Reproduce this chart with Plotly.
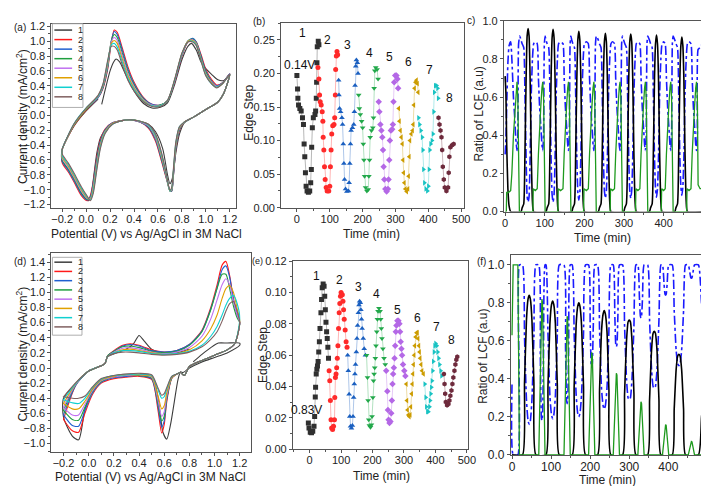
import plotly.graph_objects as go

W, H = 709, 486
FONT = "Liberation Sans, Arial, sans-serif"

cycle_labels = ['1', '2', '3', '4', '5', '6', '7', '8']
cv_colors = ['#3c3c3c', '#ff1a1a', '#1f5fd0', '#1f9f3f', '#c070f0', '#e0a000', '#10d0d0', '#806060']
es_colors = ['#303030', '#ff2a2a', '#1a5fc0', '#22a84a', '#b468e6', '#cc9c00', '#19c3c3', '#6e2a3c']
es_symbols = ['square', 'circle', 'triangle-up', 'triangle-down', 'diamond',
              'triangle-left', 'triangle-right', 'hexagon']

# ---------------- panel (a) CV data ----------------
a_V = [-0.2, -0.1, 0.0, 0.1, 0.14, 0.18, 0.21, 0.235, 0.26, 0.3, 0.35, 0.4, 0.48, 0.55, 0.62, 0.68,
       0.74, 0.8, 0.85, 0.89, 0.92, 0.96, 1.0, 1.05, 1.09, 1.14, 1.2,
       1.15, 1.1, 1.0, 0.9, 0.82, 0.78, 0.75, 0.73, 0.715, 0.7, 0.67, 0.63, 0.58, 0.52, 0.45, 0.38,
       0.3, 0.22, 0.16, 0.12, 0.09, 0.06, 0.035, 0.01, -0.04, -0.1, -0.15, -0.2, -0.2]
a_I2 = [-0.46, -0.14, 0.07, 0.24, 0.36, 0.62, 0.98, 1.15, 1.12, 0.92, 0.65, 0.45, 0.24, 0.15, 0.14, 0.2, 0.45, 0.8, 0.99, 1.03, 0.99, 0.82, 0.62, 0.48, 0.41, 0.44, 0.56,
        0.3, 0.18, 0.08, -0.02, -0.09, -0.2, -0.45, -0.8, -1.02, -1.0, -0.85, -0.62, -0.35, -0.17, -0.09, -0.06, -0.07, -0.1, -0.18, -0.32, -0.55, -0.88, -1.08, -1.15, -1.08, -0.9, -0.76, -0.64, -0.46]
a_I3 = [-0.46, -0.13, 0.08, 0.24, 0.37, 0.64, 1.0, 1.13, 1.09, 0.89, 0.62, 0.43, 0.23, 0.15, 0.14, 0.2, 0.46, 0.81, 1.0, 1.04, 0.99, 0.8, 0.6, 0.46, 0.4, 0.44, 0.56,
        0.3, 0.18, 0.08, -0.02, -0.09, -0.19, -0.44, -0.8, -1.02, -1.01, -0.84, -0.6, -0.33, -0.16, -0.09, -0.06, -0.07, -0.1, -0.19, -0.34, -0.58, -0.9, -1.1, -1.14, -1.06, -0.88, -0.74, -0.62, -0.46]
a_I4 = [-0.46, -0.13, 0.08, 0.25, 0.38, 0.66, 1.0, 1.09, 1.05, 0.85, 0.59, 0.41, 0.22, 0.14, 0.14, 0.2, 0.47, 0.82, 1.0, 1.03, 0.98, 0.78, 0.58, 0.45, 0.39, 0.43, 0.55,
        0.3, 0.18, 0.08, -0.02, -0.09, -0.18, -0.42, -0.78, -1.01, -1.02, -0.83, -0.58, -0.31, -0.15, -0.09, -0.06, -0.07, -0.11, -0.2, -0.36, -0.61, -0.93, -1.11, -1.13, -1.04, -0.86, -0.72, -0.6, -0.46]
a_I5 = [-0.46, -0.12, 0.09, 0.25, 0.39, 0.68, 0.99, 1.05, 1.01, 0.81, 0.56, 0.39, 0.21, 0.14, 0.13, 0.2, 0.47, 0.82, 1.0, 1.02, 0.97, 0.76, 0.56, 0.44, 0.39, 0.43, 0.55,
        0.3, 0.18, 0.08, -0.02, -0.09, -0.17, -0.4, -0.76, -1.0, -1.02, -0.82, -0.56, -0.3, -0.14, -0.09, -0.06, -0.07, -0.11, -0.21, -0.38, -0.64, -0.96, -1.12, -1.12, -1.02, -0.84, -0.7, -0.58, -0.46]
a_I6 = [-0.46, -0.12, 0.09, 0.26, 0.4, 0.7, 0.97, 1.01, 0.97, 0.77, 0.53, 0.37, 0.2, 0.13, 0.13, 0.2, 0.48, 0.83, 1.0, 1.01, 0.96, 0.75, 0.55, 0.43, 0.38, 0.43, 0.55,
        0.3, 0.18, 0.08, -0.02, -0.09, -0.16, -0.38, -0.74, -0.99, -1.02, -0.81, -0.54, -0.28, -0.13, -0.08, -0.06, -0.07, -0.11, -0.22, -0.4, -0.67, -0.99, -1.13, -1.11, -1.0, -0.82, -0.68, -0.56, -0.46]
a_I7 = [-0.46, -0.11, 0.1, 0.26, 0.41, 0.72, 0.95, 0.97, 0.92, 0.73, 0.5, 0.35, 0.19, 0.13, 0.13, 0.2, 0.48, 0.83, 0.99, 1.0, 0.95, 0.74, 0.54, 0.42, 0.38, 0.43, 0.55,
        0.3, 0.18, 0.08, -0.02, -0.09, -0.15, -0.36, -0.72, -0.98, -1.02, -0.8, -0.52, -0.27, -0.13, -0.08, -0.06, -0.07, -0.12, -0.23, -0.42, -0.7, -1.02, -1.14, -1.1, -0.98, -0.8, -0.66, -0.54, -0.46]
a_I8 = [-0.46, -0.11, 0.1, 0.27, 0.42, 0.74, 0.93, 0.93, 0.88, 0.69, 0.47, 0.33, 0.18, 0.12, 0.12, 0.2, 0.49, 0.84, 0.99, 0.99, 0.94, 0.73, 0.53, 0.42, 0.37, 0.43, 0.55,
        0.3, 0.18, 0.08, -0.02, -0.09, -0.15, -0.35, -0.7, -0.97, -1.01, -0.79, -0.5, -0.25, -0.12, -0.08, -0.06, -0.07, -0.12, -0.24, -0.44, -0.73, -1.05, -1.15, -1.09, -0.96, -0.78, -0.64, -0.52, -0.46]
a_V1 = [0.13, 0.16, 0.2, 0.23, 0.25, 0.28, 0.33, 0.4, 0.48, 0.55, 0.62, 0.68, 0.74, 0.8, 0.85, 0.88, 0.92, 0.96, 1.0, 1.05,
        1.1, 1.15, 1.2, 1.15, 1.1, 1.0, 0.9, 0.82, 0.78, 0.75, 0.72, 0.7, 0.68, 0.64, 0.58, 0.52, 0.45, 0.38, 0.3, 0.22,
        0.16, 0.12, 0.09, 0.065, 0.045, 0.02, -0.04, -0.1, -0.15, -0.2, -0.2, -0.1, 0.0, 0.1]
a_I1 = [0.15, 0.35, 0.6, 0.72, 0.76, 0.72, 0.55, 0.33, 0.16, 0.1, 0.11, 0.17, 0.42, 0.75, 0.93, 0.97, 0.88, 0.72, 0.63, 0.55,
        0.48, 0.47, 0.55, 0.3, 0.18, 0.08, -0.02, -0.1, -0.25, -0.5, -0.85, -0.92, -0.8, -0.45, -0.22, -0.12, -0.08, -0.06, -0.07, -0.11,
        -0.2, -0.3, -0.5, -0.8, -1.05, -1.15, -1.05, -0.85, -0.72, -0.62, -0.46, -0.14, 0.06, 0.22]

# ---------------- panel (d) CV data ----------------
d_V = [-0.2, -0.1, 0.0, 0.1, 0.13, 0.15, 0.2, 0.27, 0.33, 0.4, 0.5, 0.6, 0.7, 0.8, 0.9, 0.97, 1.02, 1.06, 1.09, 1.12, 1.15, 1.18, 1.2,
       1.16, 1.1, 1.0, 0.9, 0.8, 0.76, 0.73, 0.7, 0.66, 0.62, 0.6, 0.58, 0.55, 0.5, 0.4, 0.3, 0.2, 0.1, 0.03, -0.03, -0.08, -0.13, -0.2, -0.2]
d_I2 = [-0.68, -0.22, -0.04, 0.03, 0.06, 0.16, 0.23, 0.3, 0.32, 0.3, 0.24, 0.21, 0.23, 0.31, 0.5, 0.8, 1.1, 1.36, 1.41, 1.22, 0.92, 0.7, 0.6,
        0.32, 0.24, 0.17, 0.1, 0.02, -0.1, -0.06, -0.08, -0.14, -0.45, -0.75, -0.86, -0.55, -0.15, -0.11, -0.12, -0.14, -0.2, -0.35, -0.6, -0.85, -0.83, -0.68, -0.68]
d_I3 = [-0.62, -0.22, -0.04, 0.03, 0.06, 0.16, 0.22, 0.29, 0.31, 0.29, 0.23, 0.21, 0.23, 0.31, 0.49, 0.78, 1.06, 1.3, 1.35, 1.2, 0.9, 0.7, 0.6,
        0.32, 0.24, 0.17, 0.1, 0.02, -0.1, -0.06, -0.08, -0.13, -0.42, -0.7, -0.78, -0.5, -0.14, -0.1, -0.11, -0.13, -0.19, -0.33, -0.56, -0.77, -0.76, -0.62, -0.62]
d_I4 = [-0.56, -0.21, -0.04, 0.03, 0.06, 0.16, 0.22, 0.28, 0.29, 0.27, 0.22, 0.2, 0.22, 0.3, 0.48, 0.77, 1.05, 1.24, 1.24, 1.05, 0.82, 0.66, 0.6,
        0.32, 0.24, 0.17, 0.1, 0.02, -0.1, -0.06, -0.08, -0.13, -0.4, -0.64, -0.7, -0.46, -0.13, -0.1, -0.1, -0.12, -0.18, -0.31, -0.52, -0.69, -0.68, -0.56, -0.56]
d_I5 = [-0.52, -0.21, -0.04, 0.03, 0.06, 0.15, 0.21, 0.26, 0.27, 0.25, 0.21, 0.19, 0.21, 0.27, 0.42, 0.65, 0.9, 1.1, 1.18, 1.1, 0.88, 0.7, 0.6,
        0.32, 0.24, 0.17, 0.1, 0.02, -0.1, -0.06, -0.08, -0.12, -0.37, -0.58, -0.64, -0.42, -0.12, -0.09, -0.1, -0.12, -0.17, -0.3, -0.48, -0.62, -0.62, -0.52, -0.52]
d_I6 = [-0.47, -0.2, -0.04, 0.03, 0.06, 0.15, 0.2, 0.24, 0.25, 0.23, 0.2, 0.18, 0.19, 0.24, 0.36, 0.52, 0.7, 0.92, 1.05, 1.09, 1.0, 0.78, 0.62,
        0.32, 0.24, 0.17, 0.1, 0.02, -0.1, -0.06, -0.08, -0.12, -0.33, -0.5, -0.54, -0.36, -0.11, -0.09, -0.09, -0.11, -0.16, -0.28, -0.44, -0.54, -0.54, -0.47, -0.47]
d_I7 = [-0.42, -0.2, -0.04, 0.03, 0.06, 0.15, 0.2, 0.23, 0.23, 0.22, 0.19, 0.18, 0.19, 0.22, 0.3, 0.42, 0.55, 0.7, 0.83, 0.92, 0.96, 0.85, 0.65,
        0.32, 0.24, 0.17, 0.1, 0.02, -0.1, -0.06, -0.08, -0.11, -0.28, -0.38, -0.4, -0.28, -0.1, -0.08, -0.09, -0.1, -0.15, -0.26, -0.4, -0.47, -0.46, -0.42, -0.42]
d_I8 = [-0.38, -0.19, -0.04, 0.03, 0.06, 0.15, 0.19, 0.21, 0.21, 0.2, 0.18, 0.17, 0.18, 0.21, 0.28, 0.38, 0.48, 0.62, 0.75, 0.85, 0.88, 0.75, 0.6,
        0.32, 0.24, 0.17, 0.1, 0.02, -0.1, -0.06, -0.08, -0.11, -0.26, -0.34, -0.36, -0.26, -0.09, -0.07, -0.08, -0.1, -0.14, -0.25, -0.37, -0.4, -0.4, -0.38, -0.38]
d_V1 = [0.83, 0.9, 0.97, 1.03, 1.1, 1.2, 1.2, 1.1, 1.0, 0.9, 0.8, 0.75, 0.73, 0.71, 0.68, 0.65, 0.62, 0.59, 0.56, 0.52,
        0.45, 0.35, 0.2, 0.1, 0.03, -0.03, -0.08, -0.13, -0.2, -0.2, -0.1, 0.0, 0.1, 0.13, 0.15, 0.22, 0.3, 0.36, 0.4, 0.44,
        0.5, 0.6, 0.7, 0.8]
d_I1 = [0.08, 0.18, 0.27, 0.33, 0.33, 0.33, 0.3, 0.2, 0.14, 0.08, 0.0, -0.06, -0.05, -0.15, -0.45, -0.75, -0.94, -0.85, -0.5, -0.18,
        -0.1, -0.08, -0.1, -0.16, -0.28, -0.55, -0.95, -0.9, -0.65, -0.4, -0.2, -0.04, 0.03, 0.06, 0.15, 0.2, 0.25, 0.33, 0.43, 0.36,
        0.25, 0.2, 0.2, 0.25]

# ---------------- panel (b) edge step ----------------
b_t1 = [0, 2, 3, 5, 9, 13, 17, 20, 22, 24, 26, 28, 31, 35, 39, 42, 44, 45, 47, 50, 55, 57, 59, 60, 61, 62, 65, 67]
b_v1 = [0.197, 0.177, 0.163, 0.153, 0.148, 0.144, 0.134, 0.124, 0.095, 0.076, 0.052, 0.032, 0.025, 0.023, 0.025, 0.037, 0.057, 0.090, 0.119, 0.134, 0.139, 0.144, 0.163, 0.187, 0.216, 0.240, 0.248, 0.243]
b_t2 = [64, 67, 69, 71, 74, 77, 79, 80, 82, 84, 86, 89, 92, 97, 100, 102, 104, 106, 109, 113, 115, 117, 118, 120, 122, 124]
b_v2 = [0.209, 0.192, 0.168, 0.158, 0.153, 0.143, 0.129, 0.105, 0.086, 0.061, 0.042, 0.030, 0.025, 0.025, 0.032, 0.061, 0.086, 0.110, 0.122, 0.124, 0.134, 0.168, 0.206, 0.226, 0.233, 0.228]
b_t3 = [127, 128, 130, 133, 137, 139, 141, 143, 145, 148, 152, 157, 159, 161, 163, 165, 169, 173, 175, 177, 179, 181, 184, 186]
b_v3 = [0.190, 0.168, 0.148, 0.143, 0.134, 0.124, 0.095, 0.066, 0.042, 0.028, 0.024, 0.025, 0.037, 0.066, 0.095, 0.115, 0.119, 0.124, 0.143, 0.182, 0.211, 0.220, 0.216, 0.200]
b_t4 = [188, 190, 193, 197, 200, 202, 204, 206, 209, 213, 217, 219, 221, 223, 227, 231, 233, 235, 237, 240, 244, 247]
b_v4 = [0.168, 0.148, 0.139, 0.129, 0.119, 0.095, 0.071, 0.047, 0.030, 0.025, 0.027, 0.047, 0.071, 0.105, 0.115, 0.119, 0.134, 0.178, 0.204, 0.209, 0.206, 0.192]
b_t5 = [249, 251, 254, 257, 260, 262, 264, 266, 269, 273, 277, 279, 281, 283, 286, 290, 292, 294, 296, 299, 303, 306, 308]
b_v5 = [0.158, 0.143, 0.124, 0.115, 0.105, 0.086, 0.061, 0.042, 0.028, 0.024, 0.028, 0.042, 0.071, 0.100, 0.115, 0.117, 0.124, 0.158, 0.187, 0.197, 0.197, 0.192, 0.178]
b_t6 = [310, 312, 315, 318, 321, 323, 325, 327, 330, 334, 338, 340, 342, 344, 348, 352, 354, 356, 358, 361, 364, 367, 369]
b_v6 = [0.148, 0.129, 0.115, 0.105, 0.095, 0.071, 0.052, 0.037, 0.028, 0.024, 0.028, 0.047, 0.076, 0.100, 0.110, 0.115, 0.124, 0.153, 0.178, 0.187, 0.190, 0.185, 0.172]
b_t7 = [370, 373, 377, 381, 383, 385, 388, 392, 397, 400, 402, 404, 407, 411, 414, 416, 418, 421, 425, 428, 430]
b_v7 = [0.134, 0.124, 0.115, 0.105, 0.086, 0.057, 0.037, 0.028, 0.025, 0.032, 0.057, 0.086, 0.095, 0.100, 0.110, 0.143, 0.172, 0.182, 0.182, 0.178, 0.163]
b_t8 = [431, 434, 437, 440, 442, 444, 447, 450, 455, 460, 462, 464, 467, 472, 477]
b_v8 = [0.134, 0.124, 0.115, 0.105, 0.086, 0.061, 0.042, 0.030, 0.025, 0.030, 0.052, 0.076, 0.090, 0.093, 0.095]
b_label_t = [17, 94, 155, 220, 282, 339, 402, 465]
b_label_v = [0.260, 0.250, 0.242, 0.231, 0.224, 0.217, 0.205, 0.163]

# ---------------- panel (e) edge step ----------------
e_t1 = [-4, -2, 2, 6, 10, 14, 16, 18, 19, 21, 23, 25, 27, 29, 31, 33, 36, 38, 40, 43, 46, 48, 50, 52, 54, 56, 58, 60]
e_v1 = [0.0166, 0.0135, 0.0108, 0.0104, 0.0114, 0.0145, 0.0208, 0.0332, 0.0394, 0.048, 0.051, 0.053, 0.056, 0.062, 0.0685, 0.077, 0.087, 0.0955, 0.103, 0.1055, 0.104, 0.0976, 0.089, 0.081, 0.075, 0.0706, 0.065, 0.058]
e_t2 = [62, 64, 66, 68, 70, 73, 76, 79, 80, 82, 84, 86, 88, 90, 92, 94, 96, 98, 100, 104, 106, 108, 110, 113, 116, 119]
e_v2 = [0.050, 0.0436, 0.031, 0.0187, 0.0135, 0.0125, 0.0145, 0.0187, 0.033, 0.0457, 0.048, 0.052, 0.058, 0.066, 0.077, 0.087, 0.093, 0.0976, 0.100, 0.0986, 0.0945, 0.089, 0.083, 0.076, 0.0685, 0.065]
e_t3 = [121, 123, 125.5, 127.5, 130, 133, 136, 138, 140, 142, 144, 146, 148.5, 150.5, 152.5, 155, 157, 159, 161, 163, 165, 167, 170.5, 173.5, 177.5]
e_v3 = [0.060, 0.050, 0.035, 0.0208, 0.0145, 0.0133, 0.015, 0.0208, 0.033, 0.0415, 0.048, 0.054, 0.062, 0.0706, 0.079, 0.087, 0.092, 0.0945, 0.0934, 0.089, 0.083, 0.077, 0.0706, 0.064, 0.060]
e_t4 = [181, 184, 186, 188, 190, 193.5, 196.5, 198.5, 201, 203, 205, 207, 209, 211, 213.5, 215.5, 217.5, 220.5, 224, 226, 228, 230, 233, 236.5, 240.5]
e_v4 = [0.060, 0.0457, 0.031, 0.0187, 0.015, 0.014, 0.0156, 0.0208, 0.033, 0.0436, 0.048, 0.052, 0.058, 0.066, 0.075, 0.083, 0.088, 0.090, 0.088, 0.083, 0.077, 0.0706, 0.064, 0.058, 0.054]
e_t5 = [243.5, 247, 249, 251, 254, 257, 259.5, 261.5, 263.5, 265.5, 268, 270, 272, 274, 276, 279, 282.5, 285.5, 287.5, 289.5, 292, 294, 297, 301, 304.5]
e_v5 = [0.050, 0.037, 0.025, 0.0187, 0.0166, 0.0176, 0.0228, 0.031, 0.0415, 0.048, 0.052, 0.058, 0.066, 0.075, 0.079, 0.082, 0.082, 0.080, 0.075, 0.0685, 0.064, 0.060, 0.054, 0.050, 0.0467]
e_t6 = [307.5, 309.5, 311.5, 314, 317, 320, 322, 324.5, 326.5, 328.5, 330.5, 332.5, 334.5, 337, 340, 343, 345, 347.5, 349.5, 351.5, 354.5, 357.5, 362]
e_v6 = [0.0415, 0.031, 0.025, 0.0218, 0.0208, 0.0218, 0.027, 0.0353, 0.0415, 0.048, 0.054, 0.060, 0.066, 0.0716, 0.0743, 0.0743, 0.0706, 0.066, 0.062, 0.058, 0.054, 0.050, 0.048]
e_t7 = [366, 369, 371, 374.5, 377.5, 381, 383, 385, 387, 389, 391, 393, 395.5, 397.5, 400.5, 404, 407, 410, 413, 416.5, 419.5]
e_v7 = [0.0415, 0.033, 0.027, 0.0239, 0.0239, 0.027, 0.031, 0.0353, 0.0394, 0.0436, 0.050, 0.056, 0.062, 0.066, 0.0675, 0.066, 0.062, 0.058, 0.054, 0.050, 0.0467]
e_t8 = [427, 429, 431, 433, 437, 441.5, 444.5, 447.5, 451, 454, 457, 460.5, 463.5, 466.5, 469.5]
e_v8 = [0.048, 0.0415, 0.0353, 0.030, 0.028, 0.0287, 0.031, 0.034, 0.0374, 0.0415, 0.0457, 0.050, 0.054, 0.057, 0.059]
e_label_t = [21, 96, 154, 214, 280, 343, 402, 450]
e_label_v = [0.1104, 0.108, 0.1034, 0.099, 0.0889, 0.0835, 0.078, 0.0695]

# ---------------- panel (c) LCF ----------------
c_black_t = [0, 2, 4, 7, 10, 14,
             40, 43, 47, 50, 53, 55.5, 58, 60.5, 63, 66, 69, 72,
             103, 106, 110, 113, 116, 118.5, 121, 123.5, 126, 129, 132, 135,
             168, 171, 175, 178, 181, 183.5, 186, 188.5, 191, 194, 197, 200,
             235, 238, 242, 245, 248, 250.5, 253, 255.5, 258, 261, 264, 267,
             299, 302, 306, 309, 312, 314.5, 317, 319.5, 322, 325, 328, 331,
             364, 367, 371, 374, 377, 379.5, 382, 384.5, 387, 390, 393, 396,
             428, 431, 435, 438, 441, 443.5, 446, 448.5, 451, 454, 457, 460,
             498]
c_black_v = [0.71, 0.62, 0.35, 0.12, 0.03, 0.0,
             0, 0.02, 0.04, 0.3, 0.7, 0.92, 0.96, 0.92, 0.7, 0.3, 0.05, 0,
             0, 0.02, 0.04, 0.3, 0.7, 0.91, 0.955, 0.91, 0.7, 0.3, 0.05, 0,
             0, 0.02, 0.04, 0.3, 0.7, 0.9, 0.945, 0.9, 0.7, 0.3, 0.05, 0,
             0, 0.02, 0.04, 0.3, 0.7, 0.89, 0.935, 0.89, 0.7, 0.3, 0.05, 0,
             0, 0.02, 0.04, 0.3, 0.7, 0.89, 0.93, 0.89, 0.7, 0.3, 0.05, 0,
             0, 0.02, 0.04, 0.3, 0.7, 0.88, 0.925, 0.88, 0.7, 0.3, 0.05, 0,
             0, 0.02, 0.04, 0.3, 0.7, 0.87, 0.915, 0.87, 0.7, 0.3, 0.05, 0,
             0]
c_green_t = [0, 3, 4, 8, 14, 17, 21, 24, 27, 30, 32, 34, 36,
             70, 71, 76, 81, 84, 87, 90, 93, 95, 97, 99, 101,
             133, 134, 140, 146, 149, 152, 155, 158, 160, 162, 164, 166,
             198, 199, 205, 210, 213, 216, 219, 222, 224, 226, 228, 230,
             265, 266, 271, 276, 279, 282, 285, 288, 290, 292, 294, 296,
             329, 330, 335, 340, 343, 346, 349, 352, 354, 356, 358, 360,
             394, 395, 400, 404, 407, 410, 413, 416, 418, 420, 422, 424,
             458, 459, 464, 469, 472, 475, 478, 481, 483, 485, 487, 492, 498]
c_green_v = [0, 0, 0.1, 0.1, 0.11, 0.2, 0.4, 0.5, 0.62, 0.68, 0.6, 0.1, 0,
             0, 0.12, 0.11, 0.12, 0.3, 0.45, 0.55, 0.65, 0.68, 0.6, 0.1, 0,
             0, 0.12, 0.11, 0.12, 0.3, 0.45, 0.55, 0.65, 0.68, 0.6, 0.1, 0,
             0, 0.12, 0.11, 0.12, 0.3, 0.45, 0.55, 0.65, 0.68, 0.6, 0.1, 0,
             0, 0.12, 0.11, 0.12, 0.3, 0.45, 0.55, 0.65, 0.68, 0.6, 0.1, 0,
             0, 0.12, 0.11, 0.12, 0.3, 0.45, 0.55, 0.65, 0.68, 0.6, 0.1, 0,
             0, 0.12, 0.11, 0.12, 0.3, 0.45, 0.55, 0.65, 0.68, 0.6, 0.1, 0,
             0, 0.12, 0.11, 0.12, 0.3, 0.45, 0.55, 0.65, 0.68, 0.6, 0.14, 0.12, 0.12]
c_blue_t = ([0, 2, 4, 7, 10, 14, 17, 21, 24, 27, 30, 32, 34, 37]
            + [40, 43, 47, 50, 53, 55.5, 58, 60.5, 63, 66, 69, 72]
            + [76, 81, 84, 87, 90, 93, 95, 97, 99, 101]
            + [103, 106, 110, 113, 116, 118.5, 121, 123.5, 126, 129, 132, 135]
            + [140, 146, 149, 152, 155, 158, 160, 162, 164, 166]
            + [168, 171, 175, 178, 181, 183.5, 186, 188.5, 191, 194, 197, 200]
            + [205, 210, 213, 216, 219, 222, 224, 226, 228, 230]
            + [235, 238, 242, 245, 248, 250.5, 253, 255.5, 258, 261, 264, 267]
            + [271, 276, 279, 282, 285, 288, 290, 292, 294, 296]
            + [299, 302, 306, 309, 312, 314.5, 317, 319.5, 322, 325, 328, 331]
            + [335, 340, 343, 346, 349, 352, 354, 356, 358, 360]
            + [364, 367, 371, 374, 377, 379.5, 382, 384.5, 387, 390, 393, 396]
            + [400, 404, 407, 410, 413, 416, 418, 420, 422, 424]
            + [428, 431, 435, 438, 441, 443.5, 446, 448.5, 451, 454, 457, 460]
            + [464, 469, 472, 475, 478, 481, 483, 485, 487, 492, 498])
c_blue_v = ([0.3, 0.38, 0.55, 0.78, 0.87, 0.89, 0.8, 0.6, 0.5, 0.38, 0.32, 0.4, 0.88, 0.92]
            + [0.9, 0.88, 0.86, 0.62, 0.28, 0.08, 0.05, 0.08, 0.28, 0.62, 0.8, 0.88]
            + [0.89, 0.88, 0.7, 0.55, 0.45, 0.35, 0.32, 0.4, 0.88, 0.92]
            + [0.9, 0.88, 0.86, 0.62, 0.28, 0.09, 0.05, 0.09, 0.28, 0.62, 0.8, 0.88]
            + [0.89, 0.88, 0.7, 0.55, 0.45, 0.35, 0.32, 0.4, 0.88, 0.92]
            + [0.9, 0.88, 0.86, 0.62, 0.28, 0.1, 0.06, 0.1, 0.28, 0.62, 0.8, 0.88]
            + [0.89, 0.88, 0.7, 0.55, 0.45, 0.35, 0.32, 0.4, 0.88, 0.92]
            + [0.9, 0.88, 0.86, 0.62, 0.28, 0.11, 0.07, 0.11, 0.28, 0.62, 0.8, 0.88]
            + [0.89, 0.88, 0.7, 0.55, 0.45, 0.35, 0.32, 0.4, 0.88, 0.92]
            + [0.9, 0.88, 0.86, 0.62, 0.28, 0.11, 0.07, 0.11, 0.28, 0.62, 0.8, 0.88]
            + [0.89, 0.88, 0.7, 0.55, 0.45, 0.35, 0.32, 0.4, 0.88, 0.92]
            + [0.9, 0.88, 0.86, 0.62, 0.28, 0.12, 0.075, 0.12, 0.28, 0.62, 0.8, 0.88]
            + [0.89, 0.88, 0.7, 0.55, 0.45, 0.35, 0.32, 0.4, 0.88, 0.92]
            + [0.9, 0.88, 0.86, 0.62, 0.28, 0.13, 0.085, 0.13, 0.28, 0.62, 0.8, 0.88]
            + [0.89, 0.88, 0.7, 0.55, 0.45, 0.35, 0.32, 0.4, 0.85, 0.86, 0.88])

# ---------------- panel (f) LCF ----------------
f_black_t = [0, 27, 32, 37, 41, 44, 47, 51, 56, 61,
             87, 92, 97, 101, 104, 107, 111, 116, 121,
             154, 159, 164, 168, 171, 174, 178, 183, 188,
             219, 224, 229, 233, 236, 239, 243, 248, 253,
             283, 288, 293, 297, 300, 303, 307, 312, 317,
             347, 352, 357, 361, 364, 367, 371, 376, 381,
             410, 415, 420, 424, 427, 430, 434, 439, 444,
             477, 485, 494]
f_black_v = [0, 0, 0.38, 0.71, 0.82, 0.84, 0.82, 0.71, 0.38, 0,
             0, 0.36, 0.69, 0.79, 0.81, 0.79, 0.69, 0.36, 0,
             0, 0.36, 0.68, 0.78, 0.80, 0.78, 0.68, 0.36, 0,
             0, 0.34, 0.65, 0.74, 0.76, 0.74, 0.65, 0.34, 0,
             0, 0.32, 0.60, 0.70, 0.71, 0.70, 0.60, 0.32, 0,
             0, 0.29, 0.55, 0.64, 0.65, 0.64, 0.55, 0.29, 0,
             0, 0.24, 0.45, 0.52, 0.53, 0.52, 0.45, 0.24, 0,
             0, 0.2, 0.39]
f_green_t = [0, 3, 15, 19,
             68.5, 72.5, 75, 76.5, 78, 80.5, 84.5,
             133, 137, 139.5, 141, 142.5, 145, 149,
             196, 200, 202.5, 204, 205.5, 208, 212,
             259, 263, 265.5, 267, 268.5, 271, 275,
             322, 326, 328.5, 330, 331.5, 334, 338,
             385, 389, 391.5, 393, 394.5, 397, 401,
             451, 455, 457.5, 459, 460.5, 463, 467,
             494]
f_green_v = [0.63, 1.0, 1.0, 0,
             0, 0.49, 0.80, 0.82, 0.80, 0.49, 0,
             0, 0.44, 0.71, 0.73, 0.71, 0.44, 0,
             0, 0.32, 0.52, 0.54, 0.52, 0.32, 0,
             0, 0.26, 0.42, 0.43, 0.42, 0.26, 0,
             0, 0.17, 0.27, 0.28, 0.27, 0.17, 0,
             0, 0.10, 0.155, 0.16, 0.155, 0.10, 0,
             0, 0.04, 0.068, 0.07, 0.068, 0.04, 0,
             0]
f_blue_t = ([0, 3, 15, 19]
            + [27, 32, 37, 41, 44, 47, 51, 56, 61]
            + [68.5, 72.5, 75, 76.5, 78, 80.5, 84.5]
            + [87, 92, 97, 101, 104, 107, 111, 116, 121]
            + [133, 137, 139.5, 141, 142.5, 145, 149]
            + [154, 159, 164, 168, 171, 174, 178, 183, 188]
            + [196, 200, 202.5, 204, 205.5, 208, 212]
            + [219, 224, 229, 233, 236, 239, 243, 248, 253]
            + [259, 263, 265.5, 267, 268.5, 271, 275]
            + [283, 288, 293, 297, 300, 303, 307, 312, 317]
            + [322, 326, 328.5, 330, 331.5, 334, 338]
            + [347, 352, 357, 361, 364, 367, 371, 376, 381]
            + [385, 389, 391.5, 393, 394.5, 397, 401]
            + [410, 415, 420, 424, 427, 430, 434, 439, 444]
            + [451, 455, 457.5, 459, 460.5, 463, 467]
            + [477, 485, 494])
f_blue_v = ([0.37, 0, 0, 1.0]
            + [1.0, 0.62, 0.29, 0.18, 0.16, 0.18, 0.29, 0.62, 1.0]
            + [1.0, 0.51, 0.2, 0.18, 0.2, 0.51, 1.0]
            + [1.0, 0.64, 0.31, 0.21, 0.19, 0.21, 0.31, 0.64, 1.0]
            + [1.0, 0.56, 0.29, 0.27, 0.29, 0.56, 1.0]
            + [1.0, 0.64, 0.32, 0.22, 0.2, 0.22, 0.32, 0.64, 1.0]
            + [1.0, 0.68, 0.48, 0.46, 0.48, 0.68, 1.0]
            + [1.0, 0.66, 0.35, 0.26, 0.24, 0.26, 0.35, 0.66, 1.0]
            + [1.0, 0.74, 0.58, 0.57, 0.58, 0.74, 1.0]
            + [1.0, 0.68, 0.40, 0.30, 0.29, 0.30, 0.40, 0.68, 1.0]
            + [1.0, 0.83, 0.73, 0.72, 0.73, 0.83, 1.0]
            + [1.0, 0.71, 0.45, 0.36, 0.35, 0.36, 0.45, 0.71, 1.0]
            + [1.0, 0.90, 0.845, 0.84, 0.845, 0.90, 1.0]
            + [1.0, 0.76, 0.55, 0.48, 0.47, 0.48, 0.55, 0.76, 1.0]
            + [1.0, 0.96, 0.932, 0.93, 0.932, 0.96, 1.0]
            + [1.0, 0.8, 0.61])

# ---------------- layout geometry (pixels) ----------------
boxes = {  # left, top, right, bottom
    'a': (42, 10, 229, 199),
    'b': (275, 9, 460, 199),
    'c': (501, 7, 706, 203),
    'd': (42, 246, 244, 450),
    'e': (287, 254, 465, 447),
    'f': (508, 248, 707, 453),
}
order = ['a', 'b', 'c', 'd', 'e', 'f']


def px(x):
    return x / W


def py(y):
    return 1 - y / H


def rgba(hexc, a):
    h = hexc.lstrip('#')
    return 'rgba(%d,%d,%d,%.2f)' % (int(h[0:2], 16), int(h[2:4], 16), int(h[4:6], 16), a)


fig = go.Figure()


def ax_ids(k):
    i = order.index(k) + 1
    return ('x' if i == 1 else 'x%d' % i), ('y' if i == 1 else 'y%d' % i)


# (a)
xa, ya = ax_ids('a')
a_curves = [(a_V1, a_I1), (a_V, a_I2), (a_V, a_I3), (a_V, a_I4), (a_V, a_I5), (a_V, a_I6), (a_V, a_I7), (a_V, a_I8)]
for i, (vv, ii) in enumerate(a_curves):
    fig.add_trace(go.Scatter(x=vv, y=ii, mode='lines', xaxis=xa, yaxis=ya, showlegend=False,
                             line=dict(color=cv_colors[i], width=1.1, shape='spline', smoothing=0.7)))
# (d)
xd, yd = ax_ids('d')
d_curves = [(d_V1, d_I1), (d_V, d_I2), (d_V, d_I3), (d_V, d_I4), (d_V, d_I5), (d_V, d_I6), (d_V, d_I7), (d_V, d_I8)]
for i, (vv, ii) in enumerate(d_curves):
    fig.add_trace(go.Scatter(x=vv, y=ii, mode='lines', xaxis=xd, yaxis=yd, showlegend=False,
                             line=dict(color=cv_colors[i], width=1.1, shape='spline', smoothing=0.7)))
# (b)
xb, yb = ax_ids('b')
b_sets = [(b_t1, b_v1), (b_t2, b_v2), (b_t3, b_v3), (b_t4, b_v4), (b_t5, b_v5), (b_t6, b_v6), (b_t7, b_v7), (b_t8, b_v8)]
for i, (tt, vv) in enumerate(b_sets):
    fig.add_trace(go.Scatter(x=tt, y=vv, mode='lines+markers', xaxis=xb, yaxis=yb, showlegend=False,
                             line=dict(color=rgba(es_colors[i], 0.35), width=1),
                             marker=dict(symbol=es_symbols[i], size=5, color=es_colors[i], line=dict(width=0))))
# (e)
xe, ye = ax_ids('e')
e_sets = [(e_t1, e_v1), (e_t2, e_v2), (e_t3, e_v3), (e_t4, e_v4), (e_t5, e_v5), (e_t6, e_v6), (e_t7, e_v7), (e_t8, e_v8)]
for i, (tt, vv) in enumerate(e_sets):
    fig.add_trace(go.Scatter(x=tt, y=vv, mode='lines+markers', xaxis=xe, yaxis=ye, showlegend=False,
                             line=dict(color=rgba(es_colors[i], 0.35), width=1),
                             marker=dict(symbol=es_symbols[i], size=5, color=es_colors[i], line=dict(width=0))))
# (c)
xc, yc = ax_ids('c')
fig.add_trace(go.Scatter(x=c_blue_t, y=c_blue_v, mode='lines', xaxis=xc, yaxis=yc, showlegend=False,
                         line=dict(color='#1a1aff', width=1.6, dash='dashdot', shape='spline', smoothing=0.5)))
fig.add_trace(go.Scatter(x=c_black_t, y=c_black_v, mode='lines', xaxis=xc, yaxis=yc, showlegend=False,
                         line=dict(color='#000000', width=1.6, shape='spline', smoothing=0.5)))
fig.add_trace(go.Scatter(x=c_green_t, y=c_green_v, mode='lines', xaxis=xc, yaxis=yc, showlegend=False,
                         line=dict(color='#1e9a1e', width=1.3)))
# (f)
xf, yf = ax_ids('f')
fig.add_trace(go.Scatter(x=f_blue_t, y=f_blue_v, mode='lines', xaxis=xf, yaxis=yf, showlegend=False,
                         line=dict(color='#1a1aff', width=1.6, dash='dashdot', shape='spline', smoothing=0.5)))
fig.add_trace(go.Scatter(x=f_black_t, y=f_black_v, mode='lines', xaxis=xf, yaxis=yf, showlegend=False,
                         line=dict(color='#000000', width=1.6, shape='spline', smoothing=0.5)))
fig.add_trace(go.Scatter(x=f_green_t, y=f_green_v, mode='lines', xaxis=xf, yaxis=yf, showlegend=False,
                         line=dict(color='#1e9a1e', width=1.3)))

# ---------------- axes ----------------
ranges = {
    'a': ([-0.29, 1.25], [-1.243, 1.235]),
    'b': ([-48, 507], [0, 0.2757]),
    'c': ([-3, 507], [0, 1.0]),
    'd': ([-0.296, 1.286], [-1.11, 1.515]),
    'e': ([-53, 505], [0, 0.12]),
    'f': ([-3, 499], [0, 1.05]),
}
ticks = {  # dtick x, minor x, format x, dtick y, minor y, format y
    'a': (0.2, 0.1, '.1f', 0.2, 0.1, '.1f'),
    'b': (100, 50, 'd', 0.05, 0.025, '.2f'),
    'c': (100, 50, 'd', 0.2, 0.1, '.1f'),
    'd': (0.2, 0.1, '.1f', 0.2, 0.1, '.1f'),
    'e': (100, 50, 'd', 0.02, 0.01, '.2f'),
    'f': (100, 50, 'd', 0.2, 0.1, '.1f'),
}
tickfs = {'a': 11, 'b': 11, 'c': 11, 'd': 11, 'e': 11, 'f': 12}
xtick0 = {'a': -0.2, 'b': 0, 'c': 0, 'd': -0.2, 'e': 0, 'f': 0}
ytick0 = {'a': -1.2, 'b': 0, 'c': 0, 'd': -1.0, 'e': 0, 'f': 0}

# axis titles: text, centre x, centre y (pixels)
xtitles = [('Potential (V) vs Ag/AgCl in 3M NaCl', 138, 226), ('Time (min)', 367, 226), ('Time (min)', 601, 230),
           ('Potential (V) vs Ag/AgCl in 3M NaCl', 143, 476), ('Time (min)', 377, 475), ('Time (min)', 606, 479)]
ytitles = [('Current density (mA/cm<sup>2</sup>)', 12, 105), ('Edge Step', 243, 102), ('Ratio of LCF (a.u)', 476, 103),
           ('Current density (mA/cm<sup>2</sup>)', 12, 349), ('Edge Step', 256, 350), ('Ratio of LCF (a.u)', 479, 352)]

lay = {}
for k in order:
    L, T, R, B = boxes[k]
    xid, yid = ax_ids(k)
    xname = 'xaxis' + xid[1:]
    yname = 'yaxis' + yid[1:]
    dx, mx, fx, dy, my, fy = ticks[k]
    common = dict(showline=True, mirror=True, linecolor='#555555', linewidth=1, ticks='outside', ticklen=3,
                  tickwidth=1, tickcolor='#555555', showgrid=False, zeroline=False,
                  tickfont=dict(size=tickfs[k], color='#222222', family=FONT))
    lay[xname] = dict(common, domain=[px(L), px(R)], anchor=yid, range=ranges[k][0],
                      tick0=xtick0[k], dtick=dx, tickformat=fx, ticklabelstandoff=-2,
                      minor=dict(ticks='outside', ticklen=2, tickcolor='#555555', dtick=mx, tick0=xtick0[k]))
    lay[yname] = dict(common, domain=[py(B), py(T)], anchor=xid, range=ranges[k][1],
                      tick0=ytick0[k], dtick=dy, tickformat=fy,
                      minor=dict(ticks='outside', ticklen=2, tickcolor='#555555', dtick=my, tick0=ytick0[k]))
lay['xaxis3']['tickvals'] = [0, 100, 200, 300, 400]
lay['xaxis6']['tickvals'] = [0, 100, 200, 300, 400]

annotations = []
for txt, x, y in xtitles:
    annotations.append(dict(text=txt, x=px(x), y=py(y), xref='paper', yref='paper', showarrow=False,
                            xanchor='center', yanchor='middle', font=dict(size=12, color='#222222', family=FONT)))
for txt, x, y in ytitles:
    annotations.append(dict(text=txt, x=px(x), y=py(y), xref='paper', yref='paper', showarrow=False,
                            textangle=-90, xanchor='center', yanchor='middle',
                            font=dict(size=12, color='#222222', family=FONT)))
# panel letters
for txt, x, y, fs in [('(a)', 2, 14, 10), ('(b)', 244, 8, 10), ('c)', 462, 7, 10), ('(d)', 2, 254, 10),
                      ('(e)', 243, 254, 9), ('(f)', 472, 254, 10)]:
    annotations.append(dict(text=txt, x=px(x), y=py(y), xref='paper', yref='paper', showarrow=False,
                            xanchor='left', yanchor='middle', font=dict(size=fs, color='#222222', family=FONT)))
# cycle number labels
for i in range(8):
    annotations.append(dict(text=cycle_labels[i], x=b_label_t[i], y=b_label_v[i], xref=xb, yref=yb,
                            showarrow=False, font=dict(size=12, color='#111111', family=FONT)))
    annotations.append(dict(text=cycle_labels[i], x=e_label_t[i], y=e_label_v[i], xref=xe, yref=ye,
                            showarrow=False, font=dict(size=12, color='#111111', family=FONT)))
annotations.append(dict(text='0.14V', x=7, y=0.213, xref=xb, yref=yb, showarrow=False,
                        font=dict(size=12, color='#111111', family=FONT)))
annotations.append(dict(text='0.83V', x=-10, y=0.025, xref=xe, yref=ye, showarrow=False,
                        font=dict(size=12, color='#111111', family=FONT)))

# manual legends for (a) and (d)
shapes = []
for (bx0, by0, bx1, by1, row0, step) in [(43, 10, 74, 96, 16.5, 9.8), (43, 250, 73, 330, 255, 9.5)]:
    shapes.append(dict(type='rect', xref='paper', yref='paper', x0=px(bx0), x1=px(bx1), y0=py(by1), y1=py(by0),
                       line=dict(color='#999999', width=0.8), fillcolor='rgba(255,255,255,0.9)'))
    for i in range(8):
        yy = row0 + step * i
        shapes.append(dict(type='line', xref='paper', yref='paper', x0=px(bx0 + 2), x1=px(bx0 + 20),
                           y0=py(yy), y1=py(yy), line=dict(color=cv_colors[i], width=1.5)))
        annotations.append(dict(text=cycle_labels[i], x=px(bx0 + 24), y=py(yy), xref='paper', yref='paper',
                                showarrow=False, xanchor='left', yanchor='middle',
                                font=dict(size=9, color='#222222', family=FONT)))

fig.update_layout(width=W, height=H, margin=dict(l=0, r=0, t=0, b=0), paper_bgcolor='white',
                  plot_bgcolor='white', font=dict(family=FONT, size=11, color='#222222'),
                  annotations=annotations, shapes=shapes, showlegend=False, **lay)

fig.write_html("out.html")
